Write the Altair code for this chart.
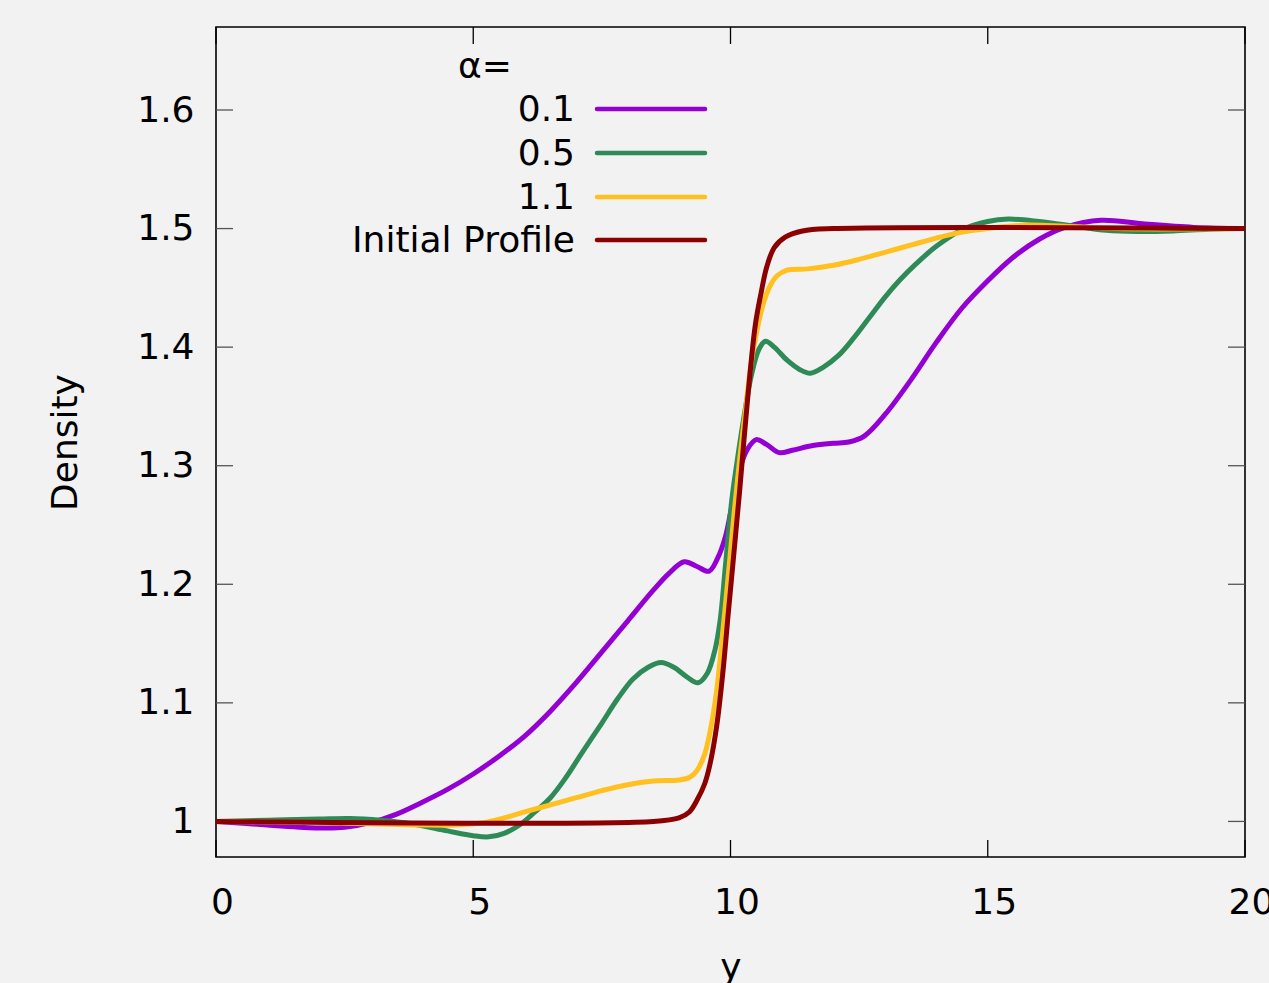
import altair as alt
import pandas as pd

# ---------------- data ----------------
x_a01 = [0, 1, 2, 2.5, 3, 3.5, 4, 4.5, 5, 5.5, 6, 6.5, 7, 7.5, 8, 8.5, 8.8, 9.1, 9.35,
         9.58, 9.75, 9.9, 10.0, 10.1, 10.2, 10.33, 10.5, 10.7, 10.95, 11.2, 11.6, 12.0, 12.3,
         12.6, 13.0, 13.5, 14.0, 14.5, 15.0, 15.5, 16.0, 16.5, 17.2, 18.0, 19.0, 20]
rho_a01 = [1.0, 0.997, 0.9945, 0.995, 0.999, 1.006, 1.016, 1.027, 1.04, 1.055, 1.072, 1.093,
           1.117, 1.143, 1.169, 1.195, 1.209, 1.219, 1.215, 1.211, 1.222, 1.24, 1.26,
           1.28, 1.3, 1.314, 1.322, 1.318, 1.311, 1.313, 1.317, 1.319, 1.32, 1.325, 1.343,
           1.372, 1.404, 1.433, 1.456, 1.476, 1.491, 1.501, 1.507, 1.504, 1.501, 1.5]

x_a05 = [0, 1, 2, 2.6, 3.2, 3.8, 4.5, 5.0, 5.3, 5.6, 5.9, 6.2, 6.5, 6.8, 7.1, 7.5, 7.8, 8.1,
         8.4, 8.65, 8.9, 9.15, 9.37, 9.55, 9.7, 9.8, 9.9, 10.03, 10.15, 10.25, 10.4, 10.55,
         10.68, 10.85, 11.1, 11.35, 11.55, 11.8, 12.1, 12.4, 12.7, 13.0, 13.3, 13.6, 14.0,
         14.5, 15.0, 15.4, 16.0, 16.7, 17.3, 17.9, 18.6, 19.3, 20]
rho_a05 = [1.0, 1.001, 1.002, 1.0025, 1.001, 0.998, 0.992, 0.988, 0.987, 0.99, 0.997, 1.008,
           1.02, 1.037, 1.057, 1.083, 1.103, 1.12, 1.130, 1.134, 1.13, 1.122, 1.117, 1.125,
           1.145, 1.17, 1.215, 1.273, 1.31, 1.338, 1.375, 1.398, 1.405, 1.400, 1.389, 1.381,
           1.378, 1.383, 1.393, 1.408, 1.425, 1.442, 1.457, 1.47, 1.485, 1.499, 1.506, 1.508,
           1.506, 1.502, 1.4985, 1.4975, 1.498, 1.4995, 1.5]

x_a11 = [0, 1, 2, 3, 4, 4.6, 5.2, 5.6, 6.0, 6.5, 7.0, 7.5, 8.0, 8.5, 9.0, 9.2, 9.35, 9.5,
         9.6, 9.73, 9.85, 9.96, 10.07, 10.18, 10.3, 10.4, 10.52, 10.62, 10.75, 10.9, 11.1,
         11.5, 12.0, 12.5, 13.0, 13.5, 14.0, 14.5, 15.0, 15.8, 16.5, 17.5, 20]
rho_a11 = [1.0, 0.9995, 0.999, 0.998, 0.997, 0.997, 0.999, 1.003, 1.008, 1.014, 1.02, 1.026,
           1.031, 1.034, 1.035, 1.037, 1.043, 1.057, 1.075, 1.11, 1.16, 1.209, 1.26, 1.306,
           1.35, 1.386, 1.415, 1.434, 1.45, 1.46, 1.465, 1.466, 1.469, 1.474, 1.48, 1.486,
           1.492, 1.497, 1.5, 1.503, 1.502, 1.5, 1.5]

x_init = [0, 8.5, 9.0, 9.2, 9.35, 9.5, 9.6, 9.73, 9.85, 9.96, 10.07, 10.18, 10.33, 10.48,
          10.6, 10.7, 10.85, 11.07, 11.4, 12.0, 20]
rho_init = [1.0, 1.0, 1.003, 1.008, 1.018, 1.032, 1.048, 1.08, 1.125, 1.177, 1.228, 1.28,
            1.355, 1.418, 1.447, 1.467, 1.484, 1.493, 1.498, 1.5, 1.5]

series_labels = ["0.1", "0.5", "1.1", "Initial Profile"]
series_colors = ["#9400d3", "#2e8b57", "#ffc020", "#8b0000"]
series_x = [x_a01, x_a05, x_a11, x_init]
series_rho = [rho_a01, rho_a05, rho_a11, rho_init]

x_ticks = [0, 5, 10, 15, 20]
y_ticks = [1, 1.1, 1.2, 1.3, 1.4, 1.5, 1.6]

# ---------------- layout ----------------
W, H = 1029, 830
FONT = "DejaVu Sans"
FS = 36
TICK_LEN = 17

xscale = alt.Scale(domain=[0, 20], nice=False, zero=False)
yscale = alt.Scale(domain=[0.97, 1.67], nice=False, zero=False)

xaxis = alt.Axis(values=x_ticks, ticks=False, domain=False, grid=False,
                 labelFont=FONT, labelFontSize=FS, labelColor="black",
                 labelPadding=28, labelOffset=6, labelFlush=False,
                 titleFont=FONT, titleFontSize=FS, titleFontWeight="normal",
                 titleColor="black", titlePadding=30)
yaxis = alt.Axis(values=y_ticks, ticks=False, domain=False, grid=False, format="~g",
                 labelFont=FONT, labelFontSize=FS, labelColor="black",
                 labelPadding=22, labelFlush=False,
                 titleFont=FONT, titleFontSize=FS, titleFontWeight="normal",
                 titleColor="black", titlePadding=52)


def X(field):
    return alt.X(field, type="quantitative", scale=xscale, axis=xaxis, title="y")


def Y(field):
    return alt.Y(field, type="quantitative", scale=yscale, axis=yaxis, title="Density")


layers = []

# tick marks (inward, mirrored on all four sides)
ydf = pd.DataFrame({"v": y_ticks})
xdf = pd.DataFrame({"v": x_ticks})
tick_style = dict(color="#555555", strokeWidth=1.3)
layers.append(alt.Chart(ydf).mark_rule(**tick_style).encode(
    y=Y("v"), x=alt.value(0), x2=alt.value(TICK_LEN)))
layers.append(alt.Chart(ydf).mark_rule(**tick_style).encode(
    y=Y("v"), x=alt.value(W - TICK_LEN), x2=alt.value(W)))
layers.append(alt.Chart(xdf).mark_rule(color="black", strokeWidth=1.3).encode(
    x=X("v"), y=alt.value(H - TICK_LEN), y2=alt.value(H)))
layers.append(alt.Chart(xdf).mark_rule(color="black", strokeWidth=1.3).encode(
    x=X("v"), y=alt.value(0), y2=alt.value(TICK_LEN)))

# curves
for lab, col, xs, rs in zip(series_labels, series_colors, series_x, series_rho):
    df = pd.DataFrame({"x": xs, "rho": rs})
    layers.append(
        alt.Chart(df).mark_line(color=col, strokeWidth=5, interpolate="catmull-rom",
                                clip=True, strokeCap="round", strokeJoin="round")
        .encode(x=X("x"), y=Y("rho"))
    )

# key (gnuplot style: right-aligned labels, sample line at right)
layers.append(
    alt.Chart(pd.DataFrame({"t": ["α="]})).mark_text(
        font=FONT, fontSize=FS, align="left", baseline="middle", color="black")
    .encode(text="t:N", x=alt.value(242), y=alt.value(40))
)
key_y = [82, 126, 170, 213]
for lab, col, ky in zip(series_labels, series_colors, key_y):
    layers.append(
        alt.Chart(pd.DataFrame({"t": [lab]})).mark_text(
            font=FONT, fontSize=FS, align="right", baseline="middle", color="black")
        .encode(text="t:N", x=alt.value(359), y=alt.value(ky + 1))
    )
    layers.append(
        alt.Chart(pd.DataFrame({"t": [lab]})).mark_rule(
            color=col, strokeWidth=4.5, strokeCap="round")
        .encode(x=alt.value(381), x2=alt.value(489), y=alt.value(ky))
    )

chart = (
    alt.layer(*layers)
    .properties(width=W, height=H,
                autosize=alt.AutoSizeParams(type="none"),
                padding={"left": 216, "top": 27, "right": 24, "bottom": 126})
    .configure(background="#f2f2f2")
    .configure_view(stroke="black", strokeWidth=1.6, fill="#f2f2f2")
)

chart.save("out.html", embed_options={"renderer": "svg", "actions": False})
